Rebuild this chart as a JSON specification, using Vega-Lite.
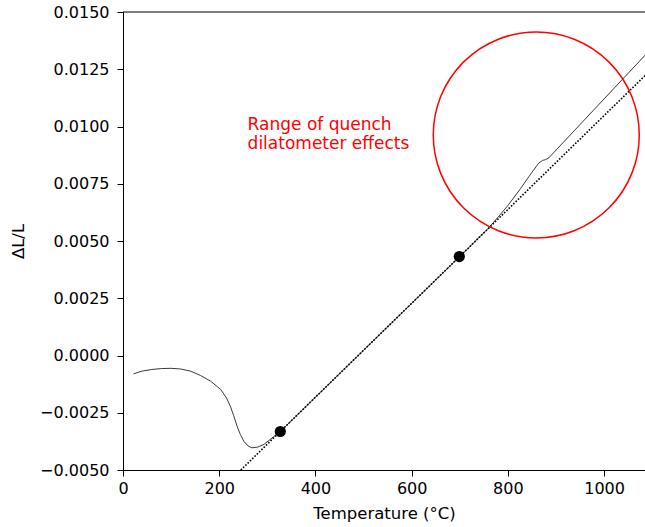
{
  "$schema": "https://vega.github.io/schema/vega-lite/v6.json",
  "width": 522,
  "height": 458,
  "autosize": {"type": "none"},
  "padding": {"left": 123, "top": 12, "right": 0, "bottom": 57},
  "background": "white",
  "config": {
    "view": {"stroke": null},
    "font": "DejaVu Sans",
    "axis": {
      "grid": false,
      "domainColor": "black",
      "domainWidth": 1,
      "tickColor": "black",
      "tickSize": 6,
      "labelColor": "black",
      "labelFontSize": 16,
      "labelFlush": false,
      "titleColor": "black",
      "titleFontSize": 16.5,
      "titleFontWeight": "normal"
    }
  },
  "datasets": {
    "dilatation": [
      {"T": 22, "dl": -0.00080},
      {"T": 40, "dl": -0.00068},
      {"T": 60, "dl": -0.00061},
      {"T": 80, "dl": -0.00057},
      {"T": 100, "dl": -0.00056},
      {"T": 120, "dl": -0.00059},
      {"T": 140, "dl": -0.00068},
      {"T": 161, "dl": -0.00087},
      {"T": 182, "dl": -0.00112},
      {"T": 203, "dl": -0.00148},
      {"T": 215, "dl": -0.00185},
      {"T": 223, "dl": -0.00221},
      {"T": 230, "dl": -0.00262},
      {"T": 237, "dl": -0.00308},
      {"T": 244, "dl": -0.00345},
      {"T": 251, "dl": -0.00374},
      {"T": 260, "dl": -0.00395},
      {"T": 268, "dl": -0.00403},
      {"T": 280, "dl": -0.00400},
      {"T": 293, "dl": -0.00388},
      {"T": 313, "dl": -0.00355},
      {"T": 327, "dl": -0.00332},
      {"T": 500, "dl": 0.00023},
      {"T": 700, "dl": 0.00432},
      {"T": 760, "dl": 0.00557},
      {"T": 780, "dl": 0.00605},
      {"T": 800, "dl": 0.00655},
      {"T": 826, "dl": 0.00728},
      {"T": 850, "dl": 0.00800},
      {"T": 864, "dl": 0.00840},
      {"T": 872, "dl": 0.00852},
      {"T": 878, "dl": 0.00855},
      {"T": 885, "dl": 0.00863},
      {"T": 1086, "dl": 0.01313}
    ],
    "fit": [
      {"T": 240, "dl": -0.0051},
      {"T": 1086, "dl": 0.01224}
    ],
    "anchors": [
      {"T": 327, "dl": -0.00332},
      {"T": 699, "dl": 0.00432}
    ],
    "region": [
      {"T": 859, "dl": 0.00963}
    ],
    "note": [
      {"T": 259, "dl": 0.01042, "label": "Range of quench\ndilatometer effects"}
    ]
  },
  "layer": [
    {
      "data": {"name": "dilatation"},
      "mark": {"type": "line", "color": "#3a3a3a", "strokeWidth": 1, "clip": true},
      "encoding": {
        "x": {
          "field": "T", "type": "quantitative", "title": "Temperature (°C)",
          "scale": {"domain": [0, 1085], "nice": false, "zero": false},
          "axis": {"values": [0, 200, 400, 600, 800, 1000], "format": "d", "labelPadding": 4, "titlePadding": 9}
        },
        "y": {
          "field": "dl", "type": "quantitative", "title": "ΔL/L",
          "scale": {"domain": [-0.005, 0.015], "nice": false, "zero": false},
          "axis": {
            "values": [-0.005, -0.0025, 0, 0.0025, 0.005, 0.0075, 0.01, 0.0125, 0.015],
            "format": ".4f", "labelPadding": 8, "titlePadding": 13
          }
        }
      }
    },
    {
      "data": {"name": "fit"},
      "mark": {"type": "line", "color": "black", "strokeWidth": 1.6, "strokeDash": [1.6, 1.6], "clip": true},
      "encoding": {
        "x": {"field": "T", "type": "quantitative", "scale": {"domain": [0, 1085], "nice": false, "zero": false}},
        "y": {"field": "dl", "type": "quantitative", "scale": {"domain": [-0.005, 0.015], "nice": false, "zero": false}}
      }
    },
    {
      "data": {"name": "anchors"},
      "mark": {"type": "point", "filled": true, "color": "black", "size": 125, "opacity": 1},
      "encoding": {
        "x": {"field": "T", "type": "quantitative", "scale": {"domain": [0, 1085], "nice": false, "zero": false}},
        "y": {"field": "dl", "type": "quantitative", "scale": {"domain": [-0.005, 0.015], "nice": false, "zero": false}}
      }
    },
    {
      "data": {"name": "region"},
      "mark": {"type": "point", "shape": "circle", "filled": false, "color": "#ff0000", "strokeWidth": 1.5, "size": 42436, "opacity": 1},
      "encoding": {
        "x": {"field": "T", "type": "quantitative", "scale": {"domain": [0, 1085], "nice": false, "zero": false}},
        "y": {"field": "dl", "type": "quantitative", "scale": {"domain": [-0.005, 0.015], "nice": false, "zero": false}}
      }
    },
    {
      "data": {"name": "note"},
      "mark": {"type": "text", "align": "left", "baseline": "top", "color": "#ff0000", "fontSize": 17, "lineBreak": "\n", "lineHeight": 19.5},
      "encoding": {
        "x": {"field": "T", "type": "quantitative", "scale": {"domain": [0, 1085], "nice": false, "zero": false}},
        "y": {"field": "dl", "type": "quantitative", "scale": {"domain": [-0.005, 0.015], "nice": false, "zero": false}},
        "text": {"field": "label"}
      }
    },
    {
      "data": {"values": [{}]},
      "mark": {"type": "rule", "color": "black", "strokeWidth": 1},
      "encoding": {"y": {"datum": 0.015}}
    }
  ]
}
